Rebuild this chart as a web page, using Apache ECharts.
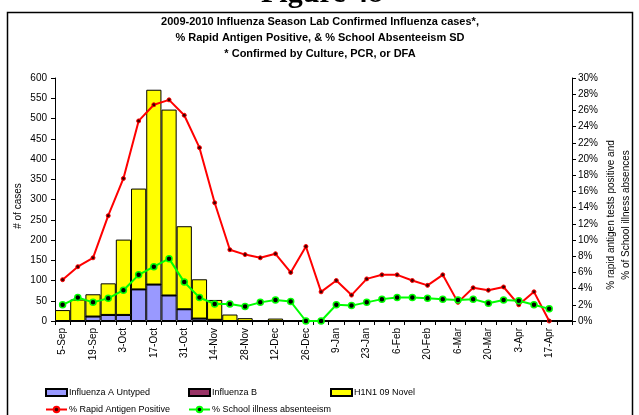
<!DOCTYPE html>
<html>
<head>
<meta charset="utf-8">
<script src="https://cdn.jsdelivr.net/npm/echarts@6/dist/echarts.min.js"></script>
<style>
html,body{margin:0;padding:0;background:#fff;}
#c{width:639px;height:415px;}
</style>
</head>
<body>
<div id="c"></div>
<script>
var categories = ['5-Sep','12-Sep','19-Sep','26-Sep','3-Oct','10-Oct','17-Oct','24-Oct','31-Oct','7-Nov','14-Nov','21-Nov','28-Nov','5-Dec','12-Dec','19-Dec','26-Dec','2-Jan','9-Jan','16-Jan','23-Jan','30-Jan','6-Feb','13-Feb','20-Feb','27-Feb','6-Mar','13-Mar','20-Mar','27-Mar','3-Apr','10-Apr','17-Apr','24-Apr'];
var fluAUntyped = [0,0,11,15,15,78,90,63,29,6,3,0,0,0,0,0,0,0,0,0,0,0,0,0,0,0,0,0,0,0,0,0,0,0];
var fluB = [0,0,0,0,0,0,0,0,0,0,0,0,0,0,0,0,0,0,0,0,0,0,0,0,0,1,0,1,0,0,0,0,0,0];
var h1n1Novel = [27,53,55,78,186,249,481,459,205,97,49,16,7,0,6,0,0,0,0,0,0,0,0,0,0,0,0,0,0,0,0,0,0,0];
var rapidAntigen = [5.1,6.7,7.8,13.0,17.6,24.7,26.7,27.3,25.4,21.4,14.6,8.8,8.2,7.8,8.3,6.0,9.2,3.6,5.0,3.2,5.2,5.7,5.7,5.0,4.4,5.7,2.3,4.1,3.8,4.2,2.0,3.6,0,null];
var schoolAbsent = [2.0,2.9,2.3,2.8,3.8,5.7,6.7,7.7,4.8,2.9,2.1,2.1,1.8,2.3,2.6,2.4,0,0,2.0,1.9,2.3,2.7,2.9,2.9,2.8,2.7,2.6,2.7,2.2,2.6,2.5,2.0,1.5,null];
var leftTicks = {min:0, max:600, interval:50};
var rightTicks = {min:0, max:30, interval:2};

var FONT = 'Liberation Sans';
var chart = echarts.init(document.getElementById('c'), null, {renderer:'canvas'});
function legendAt(name, left, top, icon){
  var l = {data:[{name:name}], left:left, top:top, padding:0, itemWidth:21, itemHeight:7, itemGap:4,
    textStyle:{fontFamily:FONT, fontSize:9, color:'#000', padding:[0,0,0,-3]}, selectedMode:false};
  if(icon) l.data[0].icon = icon;
  return l;
}
var barStyle = function(c){return {color:c, borderColor:'#000', borderWidth:1};};
chart.setOption({
  animation:false,
  backgroundColor:'#fff',
  graphic:[
    {type:'rect', shape:{x:7.5, y:12.5, width:625, height:410}, style:{fill:null, stroke:'#000', lineWidth:1.5}},
    {type:'text', x:322, y:9, style:{text:'Figure 48', font:'bold 30px "Liberation Serif"', fill:'#000', align:'center', verticalAlign:'bottom'}},
    {type:'text', x:320, y:22, style:{text:'2009-2010 Influenza Season Lab Confirmed Influenza cases*,', font:'bold 11px "Liberation Sans"', fill:'#000', align:'center', verticalAlign:'middle'}},
    {type:'text', x:320, y:38, style:{text:'% Rapid Antigen Positive, & % School Absenteeism SD', font:'bold 11px "Liberation Sans"', fill:'#000', align:'center', verticalAlign:'middle'}},
    {type:'text', x:320, y:54, style:{text:'* Confirmed by Culture, PCR, or DFA', font:'bold 11px "Liberation Sans"', fill:'#000', align:'center', verticalAlign:'middle'}},
    {type:'text', x:18, y:206, rotation:Math.PI/2, style:{text:'# of cases', font:'10px "Liberation Sans"', fill:'#000', align:'center', verticalAlign:'middle'}},
    {type:'text', x:619, y:215, rotation:Math.PI/2, style:{text:'% rapid antigen tests positive and\n% of School illness absences', font:'10px "Liberation Sans"', fill:'#000', align:'center', verticalAlign:'middle', lineHeight:15}}
  ],
  legend:[
    legendAt('Influenza A Untyped', 45, 388, 'rect'),
    legendAt('Influenza B', 188, 388, 'rect'),
    legendAt('H1N1 09 Novel', 330, 388, 'rect'),
    legendAt('% Rapid Antigen Positive', 45, 405),
    legendAt('% School illness absenteeism', 188, 405)
  ],
  grid:{left:55, right:67, top:78, bottom:94, containLabel:false},
  xAxis:{type:'category', data:categories, boundaryGap:true,
    axisLine:{lineStyle:{color:'#000', width:1}},
    axisTick:{show:true, interval:0, length:4, lineStyle:{color:'#000'}},
    axisLabel:{interval:1, rotate:90, margin:7, fontFamily:FONT, fontSize:10, color:'#000'},
    splitLine:{show:false}},
  yAxis:[
    {type:'value', min:leftTicks.min, max:leftTicks.max, interval:leftTicks.interval, position:'left',
     axisLine:{show:true, lineStyle:{color:'#000'}}, axisTick:{show:true, length:4, lineStyle:{color:'#000'}},
     axisLabel:{margin:8, fontFamily:FONT, fontSize:10, color:'#000'}, splitLine:{show:false}},
    {type:'value', min:rightTicks.min, max:rightTicks.max, interval:rightTicks.interval, position:'right',
     axisLine:{show:true, lineStyle:{color:'#000'}}, axisTick:{show:true, length:4, lineStyle:{color:'#000'}},
     axisLabel:{margin:6, formatter:'{value}%', fontFamily:FONT, fontSize:10, color:'#000'}, splitLine:{show:false}}
  ],
  series:[
    {name:'Influenza A Untyped', type:'bar', stack:'cases', data:fluAUntyped, barCategoryGap:'0%', itemStyle:barStyle('#9999FF')},
    {name:'Influenza B', type:'bar', stack:'cases', data:fluB, barCategoryGap:'0%', itemStyle:barStyle('#993366')},
    {name:'H1N1 09 Novel', type:'bar', stack:'cases', data:h1n1Novel, barCategoryGap:'0%', itemStyle:barStyle('#FFFF00')},
    {name:'% Rapid Antigen Positive', type:'line', yAxisIndex:1, data:rapidAntigen, symbol:'circle', symbolSize:4,
     lineStyle:{color:'#FF0000', width:2}, itemStyle:{color:'#400000', borderColor:'#FF0000', borderWidth:1}},
    {name:'% School illness absenteeism', type:'line', yAxisIndex:1, data:schoolAbsent, symbol:'circle', symbolSize:6,
     lineStyle:{color:'#00FF00', width:2}, itemStyle:{color:'#000', borderColor:'#00FF00', borderWidth:1.5}}
  ]
});
</script>
</body>
</html>
